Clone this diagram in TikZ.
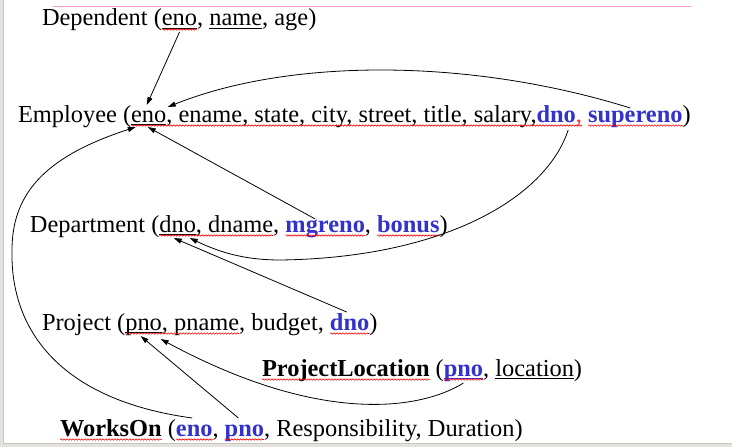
\documentclass[tikz,border=0pt]{standalone}
\usepackage{fontspec}
\setmainfont{Liberation Serif}
\usetikzlibrary{arrows.meta,decorations.pathmorphing}
\definecolor{fkblue}{RGB}{51,51,204}
\definecolor{spellred}{RGB}{255,0,0}
\definecolor{commared}{RGB}{255,51,51}
\definecolor{pinkline}{RGB}{255,153,204}
\definecolor{bordergray}{RGB}{228,226,220}
\definecolor{borderline}{RGB}{200,198,192}
\begin{document}
\begin{tikzpicture}[x=1pt,y=-1pt,
  t/.style={inner sep=0pt,outer sep=0pt,anchor=base west,font=\fontsize{24.4}{28}\selectfont},
  fk/.style={t,text=fkblue,font=\fontsize{24.4}{28}\selectfont\bfseries},
  bd/.style={t,font=\fontsize{24.4}{28}\selectfont\bfseries},
  link/.style={draw=black,line width=0.8pt,-{Triangle[length=8pt,width=5pt]}},
  uline/.style={line width=0.9pt},
  spell/.style={draw=spellred,line width=0.6pt,decorate,decoration={snake,amplitude=0.7pt,segment length=3pt}}]
\useasboundingbox (0,0) rectangle (732,447);
\fill[white] (0,0) rectangle (732,447);
% window borders
\fill[bordergray] (0,0) rectangle (3,447);
\draw[borderline,line width=0.6pt] (3,0) -- (3,443.5);
\fill[bordergray] (0,443.5) rectangle (732,447);
\draw[borderline,line width=0.6pt] (3,443.5) -- (732,443.5);
% pink line
\draw[pinkline,line width=1.6pt] (53,6.5) -- (691,6.5);

% Dependent
\node[t] (dep) at (42,26) {Dependent (};
\node[t] (deno) at (dep.base east) {eno};
\node[t] (dc1) at (deno.base east) {,};
\node[t] (dname) at ([xshift=6.1pt]dc1.base east) {name};
\node[t] (dend) at (dname.base east) {, age)};

% Employee
\node[t] (emp) at (18,122) {Employee (};
\node[t] (eeno) at (emp.base east) {eno};
\node[t] (emid) at (eeno.base east) {, ename, state, city, street, title, salary,};
\node[fk] (edno) at (emid.base east) {dno};
\node[t,text=commared] (ecom) at (edno.base east) {,};
\node[fk] (esup) at ([xshift=6.1pt]ecom.base east) {supereno};
\node[t] (eend) at (esup.base east) {)};

% Department
\node[t] (dept) at (30,232) {Department (};
\node[t] (ddno) at (dept.base east) {dno};
\node[t] (ddn) at (ddno.base east) {, dname};
\node[t] (dc2) at (ddn.base east) {,};
\node[fk] (dmgr) at ([xshift=6.1pt]dc2.base east) {mgreno};
\node[t] (dc3) at (dmgr.base east) {,};
\node[fk] (dbon) at ([xshift=6.1pt]dc3.base east) {bonus};
\node[t] (dend2) at (dbon.base east) {)};

% Project
\node[t] (proj) at (42,330) {Project (};
\node[t] (ppno) at (proj.base east) {pno};
\node[t] (ppn) at (ppno.base east) {, pname};
\node[t] (pmid) at (ppn.base east) {, budget,};
\node[fk] (pdno) at ([xshift=6.1pt]pmid.base east) {dno};
\node[t] (pend) at (pdno.base east) {)};

% ProjectLocation
\node[bd] (pl) at (262,376) {ProjectLocation};
\node[t] (plp) at ([xshift=6.1pt]pl.base east) {(};
\node[fk] (plpno) at (plp.base east) {pno};
\node[t] (plc) at (plpno.base east) {,};
\node[t] (plloc) at ([xshift=6.1pt]plc.base east) {location};
\node[t] (plend) at (plloc.base east) {)};

% WorksOn
\node[bd] (wo) at (60,436) {WorksOn};
\node[t] (wop) at ([xshift=6.1pt]wo.base east) {(};
\node[fk] (woeno) at (wop.base east) {eno};
\node[t] (woc) at (woeno.base east) {,};
\node[fk] (wopno) at ([xshift=6.1pt]woc.base east) {pno};
\node[t] (woend) at (wopno.base east) {, Responsibility, Duration)};

% solid underlines (keys)
\foreach \n in {deno,dname,eeno,ddno,ppno,plloc}{
  \draw[uline] ([yshift=-2.5pt]\n.base west) -- ([yshift=-2.5pt]\n.base east);
}
\draw[uline,fkblue] ([yshift=-2.5pt]plpno.base west) -- ([yshift=-2.5pt]plpno.base east);

% spell-check wavy underlines
\draw[spell] ([yshift=-3.5pt]deno.base west) -- ([yshift=-3.5pt]deno.base east);
\draw[spell] ([yshift=-3.5pt]eeno.base west) -- ([yshift=-3.5pt]ecom.base east);
\draw[spell] ([yshift=-3.5pt]esup.base west) -- ([yshift=-3.5pt]esup.base east);
\draw[spell] ([yshift=-3.5pt]ddno.base west) -- ([yshift=-3.5pt]ddn.base east);
\draw[spell] ([yshift=-3.5pt]dmgr.base west) -- ([yshift=-3.5pt]dmgr.base east);
\draw[spell] ([yshift=-3.5pt]dbon.base west) -- ([yshift=-3.5pt]dbon.base east);
\draw[spell] ([yshift=-3.5pt]ppno.base west) -- ([yshift=-3.5pt]ppn.base east);
\draw[spell] ([yshift=-3.5pt]pdno.base west) -- ([yshift=-3.5pt]pdno.base east);
\draw[spell] ([yshift=-3.5pt]pl.base west) -- ([yshift=-3.5pt]pl.base east);
\draw[spell] ([yshift=-3.5pt]plpno.base west) -- ([yshift=-3.5pt]plpno.base east);
\draw[spell] ([yshift=-3.5pt]wo.base west) -- ([yshift=-3.5pt]wo.base east);
\draw[spell] ([yshift=-3.5pt]woeno.base west) -- ([yshift=-3.5pt]woeno.base east);
\draw[spell] ([yshift=-3.5pt]wopno.base west) -- ([yshift=-3.5pt]wopno.base east);

% connectors
% Dependent.eno -> Employee.eno
\draw[link] ([shift={(0,6)}]deno.base) -- ([shift={(-2,-17)}]eeno.base);
% Employee.supereno -> Employee.eno
\draw[link] ([shift={(-5,-14)}]esup.base) .. controls (470,58) and (290,58) .. ([shift={(19,-15)}]eeno.base);
% Employee.dno -> Department.dno
\draw[link] ([shift={(12,8)}]edno.base) .. controls (545,200) and (440,258) .. (280,260)
   .. controls (240,260) and (215,250) .. ([shift={(12,6)}]ddno.base);
% Department.mgreno -> Employee.eno
\draw[link] ([shift={(-10,-13)}]dmgr.base) -- ([shift={(-1,5)}]eeno.base);
% WorksOn.eno -> Employee.eno
\draw[link] ([shift={(-2,-18)}]woeno.base) .. controls (60,400) and (10,330) .. (12,250)
   .. controls (12,190) and (50,155) .. ([shift={(-13,5)}]eeno.base);
% WorksOn.pno -> Project.pno
\draw[link] ([shift={(-6,-18)}]wopno.base) -- ([shift={(-3,6)}]ppno.base);
% ProjectLocation.pno -> Project.pno
\draw[link] ([shift={(0,7)}]plpno.base) .. controls (420,410) and (320,425) .. ([shift={(17,9)}]ppno.base);
% Project.dno -> Department.dno
\draw[link] ([shift={(-3,-18)}]pdno.base) -- ([shift={(-4,6)}]ddno.base);
\end{tikzpicture}
\end{document}
